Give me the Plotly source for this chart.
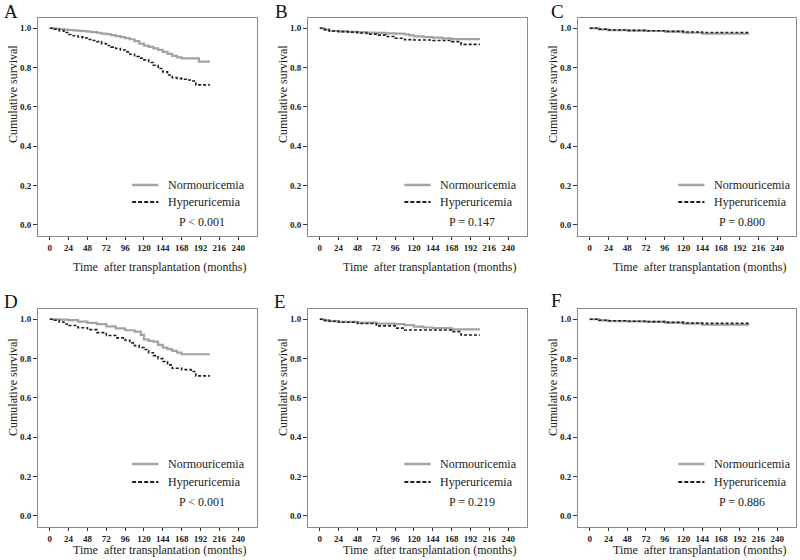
import plotly.graph_objects as go

panel_letters = ["A", "B", "C", "D", "E", "F"]
p_labels = ["P < 0.001", "P = 0.147", "P = 0.800", "P < 0.001", "P = 0.219", "P = 0.886"]
group_names = ["Normouricemia", "Hyperuricemia"]
x_ticks = [0, 24, 48, 72, 96, 120, 144, 168, 192, 216, 240]
y_ticks = [0.0, 0.2, 0.4, 0.6, 0.8, 1.0]

a_time_normo = [0, 6, 12, 18, 24, 30, 36, 42, 48, 54, 60, 66, 72, 78, 84, 90, 96, 102, 108, 114, 120, 126, 132, 138, 144, 150, 156, 162, 168, 180, 190, 204]
a_surv_normo = [1.0, 0.998, 0.996, 0.993, 0.991, 0.989, 0.987, 0.985, 0.983, 0.980, 0.977, 0.973, 0.970, 0.965, 0.960, 0.955, 0.950, 0.944, 0.934, 0.922, 0.912, 0.905, 0.898, 0.890, 0.880, 0.870, 0.860, 0.852, 0.847, 0.847, 0.830, 0.830]
a_time_hyper = [0, 6, 12, 18, 24, 30, 36, 42, 48, 54, 60, 66, 72, 78, 84, 90, 96, 102, 108, 114, 120, 126, 132, 138, 144, 150, 156, 162, 168, 174, 180, 186, 204]
a_surv_hyper = [1.0, 0.995, 0.988, 0.978, 0.968, 0.962, 0.956, 0.950, 0.943, 0.938, 0.932, 0.922, 0.912, 0.904, 0.897, 0.889, 0.880, 0.868, 0.856, 0.848, 0.839, 0.826, 0.812, 0.795, 0.778, 0.762, 0.749, 0.745, 0.741, 0.737, 0.732, 0.712, 0.712]

b_time_normo = [0, 6, 12, 24, 36, 48, 60, 72, 84, 96, 108, 114, 120, 132, 144, 156, 168, 204]
b_surv_normo = [1.0, 0.993, 0.986, 0.984, 0.982, 0.980, 0.978, 0.976, 0.974, 0.973, 0.969, 0.964, 0.959, 0.955, 0.952, 0.948, 0.945, 0.945]
b_time_hyper = [0, 6, 12, 24, 36, 48, 60, 72, 84, 96, 108, 120, 144, 168, 180, 204]
b_surv_hyper = [1.0, 0.993, 0.986, 0.983, 0.980, 0.976, 0.970, 0.965, 0.958, 0.949, 0.942, 0.940, 0.938, 0.932, 0.918, 0.918]

c_time_normo = [0, 12, 24, 48, 72, 96, 120, 144, 204]
c_surv_normo = [1.0, 0.994, 0.990, 0.988, 0.986, 0.983, 0.977, 0.972, 0.972]
c_time_hyper = [0, 12, 24, 48, 72, 96, 120, 144, 204]
c_surv_hyper = [1.0, 0.995, 0.991, 0.989, 0.987, 0.984, 0.981, 0.978, 0.978]

d_time_normo = [0, 12, 24, 36, 48, 60, 72, 84, 96, 108, 116, 120, 126, 132, 138, 144, 150, 156, 162, 168, 204]
d_surv_normo = [1.0, 0.998, 0.995, 0.988, 0.981, 0.975, 0.964, 0.954, 0.944, 0.937, 0.920, 0.897, 0.890, 0.886, 0.870, 0.856, 0.848, 0.839, 0.830, 0.822, 0.822]
d_time_hyper = [0, 6, 12, 18, 24, 36, 48, 60, 72, 84, 96, 102, 108, 114, 120, 126, 132, 138, 144, 150, 156, 168, 180, 186, 204]
d_surv_hyper = [1.0, 0.995, 0.986, 0.976, 0.968, 0.957, 0.947, 0.932, 0.917, 0.905, 0.893, 0.880, 0.866, 0.856, 0.846, 0.830, 0.815, 0.800, 0.785, 0.768, 0.751, 0.744, 0.734, 0.712, 0.712]

e_time_normo = [0, 6, 12, 24, 48, 72, 96, 108, 120, 132, 144, 168, 204]
e_surv_normo = [1.0, 0.994, 0.990, 0.987, 0.983, 0.978, 0.975, 0.970, 0.962, 0.958, 0.955, 0.948, 0.948]
e_time_hyper = [0, 6, 12, 24, 48, 72, 96, 108, 144, 168, 180, 204]
e_surv_hyper = [1.0, 0.994, 0.990, 0.985, 0.978, 0.966, 0.955, 0.945, 0.945, 0.937, 0.920, 0.920]

f_time_normo = [0, 12, 24, 48, 72, 96, 120, 144, 204]
f_surv_normo = [1.0, 0.994, 0.990, 0.989, 0.987, 0.983, 0.978, 0.972, 0.972]
f_time_hyper = [0, 12, 24, 48, 72, 96, 120, 144, 204]
f_surv_hyper = [1.0, 0.995, 0.992, 0.990, 0.988, 0.984, 0.981, 0.979, 0.979]

panels = [
    (a_time_normo, a_surv_normo, a_time_hyper, a_surv_hyper),
    (b_time_normo, b_surv_normo, b_time_hyper, b_surv_hyper),
    (c_time_normo, c_surv_normo, c_time_hyper, c_surv_hyper),
    (d_time_normo, d_surv_normo, d_time_hyper, d_surv_hyper),
    (e_time_normo, e_surv_normo, e_time_hyper, e_surv_hyper),
    (f_time_normo, f_surv_normo, f_time_hyper, f_surv_hyper),
]

W, H = 800, 560
SERIF = "Liberation Serif, Times New Roman, serif"
NORMO_COLOR = "#a3a3a3"
HYPER_COLOR = "#1e1e1e"
FRAME_COLOR = "#8a8a8a"


def px(xp):
    return xp / W


def py(yp):
    return 1 - yp / H


# page-pixel boxes (left, right) per column and (top, bottom) per row
col_px = [(38, 257), (308, 527), (578, 796)]
row_px = [(18, 236), (309, 527)]
legend_x0 = [0.43, 0.44, 0.46]
legend_rows_y = [(0.234, 0.156, 0.064), (0.289, 0.206, 0.115)]
xtitle_y = [267, 550]
ytitle_y = [94, 387]
letter_px = [(11, 11), (281, 11), (557, 11), (11, 301), (280, 301), (556, 300)]

fig = go.Figure()
layout = dict(
    width=W, height=H, margin=dict(l=0, r=0, t=0, b=0),
    paper_bgcolor="white", plot_bgcolor="white", showlegend=False,
    font=dict(family=SERIF, color="#222"),
)
annotations = []
shapes = []

for i, (tn, sn, th, sh) in enumerate(panels):
    r, c = divmod(i, 3)
    idx = "" if i == 0 else str(i + 1)
    xa, ya = "x" + idx, "y" + idx
    fig.add_trace(go.Scatter(x=tn, y=sn, mode="lines", line_shape="hv", name=group_names[0],
                             line=dict(color=NORMO_COLOR, width=2.2), xaxis=xa, yaxis=ya))
    fig.add_trace(go.Scatter(x=th, y=sh, mode="lines", line_shape="hv", name=group_names[1],
                             line=dict(color=HYPER_COLOR, width=1.6, dash="3px,2px"), xaxis=xa, yaxis=ya))
    l, rr = col_px[c]
    t, b = row_px[r]
    dom_x = [px(l), min(px(rr), 1.0)]
    dom_y = [py(b), py(t)]
    layout["xaxis" + idx] = dict(
        domain=dom_x, anchor=ya, range=[-15, 264], tickvals=x_ticks, ticktext=[str(v) for v in x_ticks],
        showline=True, mirror=True, linecolor=FRAME_COLOR, linewidth=1, showgrid=False, zeroline=False,
        ticks="outside", ticklen=3, tickcolor="#333", tickfont=dict(family=SERIF, size=9, color="#222", weight="bold"),
    )
    layout["yaxis" + idx] = dict(
        domain=dom_y, anchor=xa, range=[-0.056, 1.052], tickvals=y_ticks, ticktext=[f"{v:.1f}" for v in y_ticks],
        showline=True, mirror=True, linecolor=FRAME_COLOR, linewidth=1, showgrid=False, zeroline=False,
        ticks="outside", ticklen=4, tickcolor="#333", tickfont=dict(family=SERIF, size=9, color="#222", weight="bold"),
    )
    # legend
    x0 = legend_x0[c]
    yn, yh, yp = legend_rows_y[r]
    xd, yd = xa + " domain", ya + " domain"
    shapes.append(dict(type="line", xref=xd, yref=yd, x0=x0, x1=x0 + 0.12, y0=yn, y1=yn,
                       line=dict(color=NORMO_COLOR, width=2.5)))
    shapes.append(dict(type="line", xref=xd, yref=yd, x0=x0, x1=x0 + 0.12, y0=yh, y1=yh,
                       line=dict(color=HYPER_COLOR, width=2, dash="4px,2px")))
    annotations.append(dict(xref=xd, yref=yd, x=x0 + 0.155, y=yn, text=group_names[0], showarrow=False,
                            xanchor="left", yanchor="middle", font=dict(family=SERIF, size=12, color="#222")))
    annotations.append(dict(xref=xd, yref=yd, x=x0 + 0.155, y=yh, text=group_names[1], showarrow=False,
                            xanchor="left", yanchor="middle", font=dict(family=SERIF, size=12, color="#222")))
    annotations.append(dict(xref=xd, yref=yd, x=0.75, y=yp, text=p_labels[i], showarrow=False,
                            xanchor="center", yanchor="middle", font=dict(family=SERIF, size=12, color="#222")))
    # axis titles
    annotations.append(dict(xref="paper", yref="paper", x=px(l - 25), y=py(ytitle_y[r]),
                            text="Cumulative survival", textangle=-90, showarrow=False,
                            xanchor="center", yanchor="middle", font=dict(family=SERIF, size=12, color="#222")))
    annotations.append(dict(xref="paper", yref="paper", x=px(l + 122), y=py(xtitle_y[r]),
                            text="Time  after transplantation (months)", showarrow=False,
                            xanchor="center", yanchor="middle", font=dict(family=SERIF, size=12, color="#222")))
    lx, ly = letter_px[i]
    annotations.append(dict(xref="paper", yref="paper", x=px(lx), y=py(ly), text=panel_letters[i],
                            showarrow=False, xanchor="center", yanchor="middle",
                            font=dict(family=SERIF, size=19, color="#111")))

layout["annotations"] = annotations
layout["shapes"] = shapes
fig.update_layout(**layout)
fig.write_html(
    "out.html",
    config={"displayModeBar": False},
    post_script="document.body.style.margin='0';document.body.style.overflow='hidden';",
)
